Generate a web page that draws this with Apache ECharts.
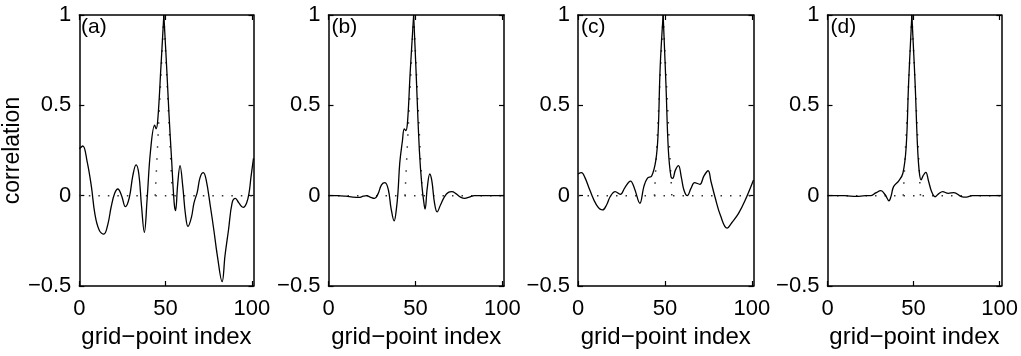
<!DOCTYPE html>
<html>
<head>
<meta charset="utf-8">
<script src="https://cdn.jsdelivr.net/npm/echarts@6/dist/echarts.min.js"></script>
<style>html,body{margin:0;padding:0;background:#fff}#c{width:1021px;height:356px}</style>
</head>
<body>
<div id="c"></div>
<script>
// ---- data ----
const panelLabels = ['(a)', '(b)', '(c)', '(d)'];
const xTicks = [0, 50, 100];
const yTicks = [-0.5, 0, 0.5, 1];
const xName = 'grid\u2212point index';
const yName = 'correlation';

const aX = [0, 2, 4.5, 7, 9, 11.5, 14.2, 16.5, 18.5, 20.5, 22.3, 24.5, 26.7, 29, 31, 32.9, 34.5, 36, 37.7, 39.3, 41.3, 43.7, 44.5, 45.5, 47.3, 49, 50.7, 52, 53.5, 55, 55.8, 57, 58.4, 60, 61.5, 63, 65, 66.5, 68.4, 70, 71.9, 73.5, 76, 78, 80, 82.8, 84.5, 86.5, 88.6, 90.5, 92.5, 95, 97, 98.5, 99.5, 101];
const aY = [0.26, 0.275, 0.19, 0.05, -0.1, -0.19, -0.213, -0.16, -0.06, 0.013, 0.037, 0.0, -0.061, -0.01, 0.11, 0.17, 0.12, -0.05, -0.203, -0.02, 0.25, 0.39, 0.37, 0.42, 0.71, 1.0, 0.7, 0.45, 0.2, -0.04, -0.083, 0.06, 0.166, 0.05, -0.1, -0.17, -0.12, -0.04, 0.02, 0.1, 0.127, 0.09, -0.06, -0.19, -0.33, -0.476, -0.33, -0.19, -0.04, -0.015, -0.04, -0.065, -0.04, 0.02, 0.1, 0.207];

const bX = [0, 5, 10, 14, 17.5, 20, 22, 24, 26.5, 28.5, 30.5, 32.5, 34.5, 36, 37.8, 39, 40, 41, 42.5, 43.6, 44.5, 45.5, 47, 49, 50.3, 52.3, 53.8, 55.2, 55.6, 56.8, 58.3, 59.5, 61, 62.5, 64.5, 66.8, 69, 71, 73.5, 76, 78.4, 81, 84, 90, 101];
const bY = [0, 0, -0.003, -0.008, -0.01, -0.003, 0, -0.008, -0.015, 0.01, 0.06, 0.072, 0.03, -0.07, -0.14, -0.08, 0.02, 0.18, 0.3, 0.37, 0.36, 0.41, 0.68, 1.0, 0.71, 0.25, 0.05, -0.06, -0.074, 0.04, 0.12, 0.08, -0.04, -0.09, -0.05, -0.005, 0.018, 0.022, 0.01, -0.008, -0.015, -0.008, 0, 0, 0];

const cX = [0, 2, 4, 6.8, 10.7, 14.2, 16.5, 18.5, 21.4, 24.3, 27, 30.2, 32.5, 35.6, 37.9, 39.9, 42.4, 44.8, 46.1, 47.3, 49, 50.6, 52, 53.5, 54.5, 56, 57.8, 59.5, 61, 62.9, 65, 67.1, 70.1, 72.5, 74.9, 76.5, 78.8, 82, 85.8, 88.5, 92.4, 96, 101];
const cY = [0.12, 0.127, 0.1, 0.031, -0.052, -0.079, -0.05, -0.006, 0.022, 0.007, 0.045, 0.081, 0.04, -0.042, 0.05, 0.096, 0.109, 0.197, 0.345, 0.714, 1.0, 0.62, 0.253, 0.105, 0.096, 0.14, 0.166, 0.1, 0.03, 0.0, 0.04, 0.072, 0.063, 0.11, 0.138, 0.08, -0.006, -0.11, -0.18, -0.15, -0.098, -0.03, 0.087];

const dX = [0, 10, 16.7, 22, 25, 28, 31, 33.5, 35.7, 37, 38.4, 41.3, 43.8, 45.7, 47.1, 49, 50.9, 52.3, 53.4, 54.4, 55.5, 57.1, 58.7, 60.5, 62.5, 64.5, 66.9, 70.1, 73.4, 77.8, 80.7, 84, 101];
const dY = [0, 0, -0.004, 0, 0, 0.015, 0.028, 0.005, -0.028, 0.0, 0.05, 0.081, 0.124, 0.27, 0.62, 1.0, 0.62, 0.27, 0.124, 0.087, 0.11, 0.129, 0.08, 0.022, -0.006, 0.01, 0.022, 0.013, 0.017, -0.005, -0.008, 0, 0];

// reference (dotted) shape: zero line and triangle
const zeroX = [0, 101];
const zeroY = [0, 0];
const triX = [44, 49, 54];
const triY = [0, 1, 0];

const xMin = 0, xMax = 101;

// ---- layout ----
const lefts = [78, 328.5, 578, 827.5];
const gridTop = 15, gridH = 271, gridW = 175.5;
const font = '"Liberation Sans", Arial, Helvetica, sans-serif';

const panels = [[aX, aY], [bX, bY], [cX, cY], [dX, dY]];

const pairs = (xs, ys) => xs.map((x, i) => [x, ys[i]]);

const grid = [], xAxis = [], yAxis = [], series = [], title = [];
const axisLine = { show: true, onZero: false, lineStyle: { color: '#000', width: 1.5 } };
const tick = { show: true, inside: true, length: 5, lineStyle: { color: '#000', width: 1.2 } };

panels.forEach((p, i) => {
  grid.push({ left: lefts[i], top: gridTop, width: gridW, height: gridH, containLabel: false });
  xAxis.push({
    gridIndex: i, type: 'value', min: xMin, max: xMax, position: 'bottom',
    name: xName, nameLocation: 'middle', nameGap: 37,
    nameTextStyle: { fontFamily: font, fontSize: 24, color: '#000' },
    axisLine, axisTick: Object.assign({ customValues: xTicks }, tick), splitLine: { show: false },
    axisLabel: { customValues: xTicks, fontFamily: font, fontSize: 22, color: '#000', margin: 12 }
  });
  xAxis.push({
    gridIndex: i, type: 'value', min: xMin, max: xMax, position: 'top',
    axisLine, axisTick: Object.assign({ customValues: xTicks }, tick), splitLine: { show: false },
    axisLabel: { show: false }
  });
  yAxis.push({
    gridIndex: i, type: 'value', min: -0.5, max: 1, interval: 0.5, position: 'left',
    name: i === 0 ? yName : '', nameLocation: 'middle', nameGap: 44,
    nameTextStyle: { fontFamily: font, fontSize: 23, color: '#000' },
    axisLine, axisTick: tick, splitLine: { show: false },
    axisLabel: {
      fontFamily: font, fontSize: 22, color: '#000', margin: 8,
      formatter: v => String(v).replace('-', '\u2212')
    }
  });
  yAxis.push({
    gridIndex: i, type: 'value', min: -0.5, max: 1, interval: 0.5, position: 'right',
    axisLine, axisTick: tick, splitLine: { show: false }, axisLabel: { show: false }
  });

  const xi = 2 * i, yi = 2 * i;
  series.push({
    type: 'line', xAxisIndex: xi, yAxisIndex: yi, data: pairs(zeroX, zeroY),
    symbol: 'none', silent: true, z: 1,
    lineStyle: { color: '#333', width: 1.5, type: [1.5, 8] }
  });
  series.push({
    type: 'line', xAxisIndex: xi, yAxisIndex: yi, data: pairs(triX, triY),
    symbol: 'none', silent: true, z: 1,
    lineStyle: { color: '#333', width: 1.5, type: [1.5, 10.5] }
  });
  // split the curve at its peak so the peak stays sharp
  const xs = p[0], ys = p[1];
  let k = 0;
  ys.forEach((v, j) => { if (v > ys[k]) k = j; });
  series.push({
    type: 'line', xAxisIndex: xi, yAxisIndex: yi, data: pairs(xs.slice(0, k + 1), ys.slice(0, k + 1)),
    symbol: 'none', smooth: 0.4, z: 3, lineStyle: { color: '#000', width: 1.3 }
  });
  series.push({
    type: 'line', xAxisIndex: xi, yAxisIndex: yi, data: pairs(xs.slice(k), ys.slice(k)),
    symbol: 'none', smooth: 0.4, z: 3, lineStyle: { color: '#000', width: 1.3 }
  });

  title.push({
    text: panelLabels[i], left: lefts[i] + 3, top: gridTop + 2, padding: 0,
    textStyle: { fontFamily: font, fontSize: 21, fontWeight: 'normal', color: '#000' }
  });
});

const chart = echarts.init(document.getElementById('c'), null, { renderer: 'canvas' });
chart.setOption({ animation: false, backgroundColor: '#fff', title, grid, xAxis, yAxis, series });
</script>
</body>
</html>
